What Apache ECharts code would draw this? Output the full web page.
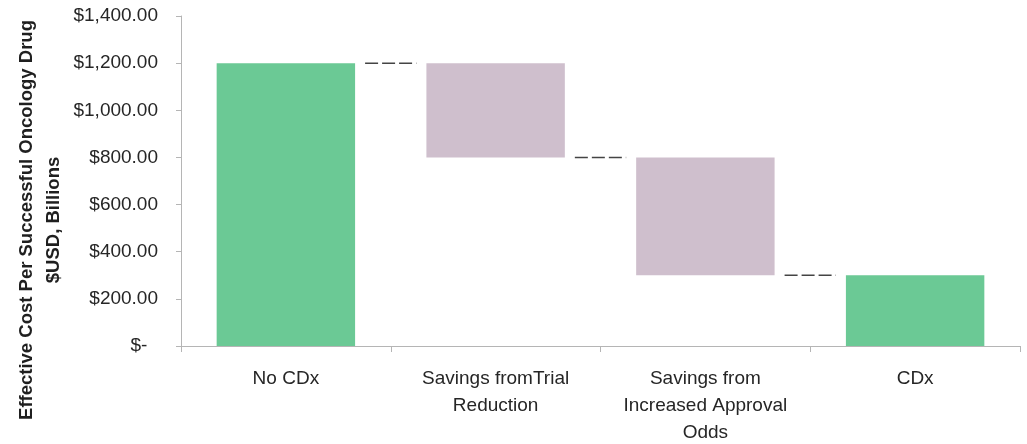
<!DOCTYPE html>
<html>
<head>
<meta charset="utf-8">
<title>Effective Cost Per Successful Oncology Drug</title>
<script src="https://cdn.jsdelivr.net/npm/echarts@6/dist/echarts.min.js"></script>
<style>
  html, body { margin: 0; padding: 0; background: #fff; }
  #chart { width: 1027px; height: 444px; }
</style>
</head>
<body>
<div id="chart"></div>
<script>
// Waterfall steps: invisible base + visible segment
const categories = ['No CDx', 'Savings fromTrial\nReduction', 'Savings from\nIncreased Approval\nOdds', 'CDx'];
const barBase = [0, 800, 300, 0];
const barHeight = [1200, 400, 500, 300];
const barKinds = ['total', 'saving', 'saving', 'total'];
// Level each dashed connector sits at, leaving category i
const connectorLevels = [1200, 800, 300];
const yTicks = [0, 200, 400, 600, 800, 1000, 1200, 1400];

const colors = { total: '#6bc995', saving: '#cfbfcd' };
const FONT = 'Liberation Sans';
const CAT_GAP = 0.34;

function money(v) {
  if (v === 0) return '$-  ';
  return '$' + v.toLocaleString('en-US', { minimumFractionDigits: 2, maximumFractionDigits: 2 });
}

const chart = echarts.init(document.getElementById('chart'), null, { renderer: 'canvas' });

chart.setOption({
  animation: false,
  backgroundColor: '#ffffff',
  grid: { left: 181, right: 7, top: 16, bottom: 98, containLabel: false, outerBoundsMode: 'none' },
  xAxis: {
    type: 'category',
    data: categories,
    axisLine: { lineStyle: { color: '#b5b5b5', width: 1 } },
    axisTick: { show: true, length: 6, alignWithLabel: false, lineStyle: { color: '#b5b5b5' } },
    axisLabel: {
      interval: 0, margin: 19, color: '#262626',
      fontFamily: FONT, fontSize: 19, lineHeight: 27
    }
  },
  yAxis: {
    type: 'value',
    min: yTicks[0],
    max: yTicks[yTicks.length - 1],
    interval: yTicks[1] - yTicks[0],
    splitLine: { show: false },
    axisLine: { show: true, lineStyle: { color: '#b5b5b5', width: 1 } },
    axisTick: { show: true, length: 5, lineStyle: { color: '#b5b5b5' } },
    axisLabel: {
      margin: 23, color: '#262626', fontFamily: FONT, fontSize: 19,
      formatter: money
    }
  },
  graphic: [{
    type: 'text',
    x: 40, y: 220,
    rotation: Math.PI / 2,
    style: {
      text: 'Effective Cost Per Successful Oncology Drug\n$USD, Billions',
      fontFamily: FONT, fontSize: 18.5, fontWeight: 'bold',
      fill: '#1f1f1f', align: 'center', verticalAlign: 'middle', lineHeight: 27
    }
  }],
  series: [
    {
      type: 'bar', stack: 'wf', silent: true,
      barCategoryGap: (CAT_GAP * 100) + '%',
      itemStyle: { color: 'transparent' },
      data: barBase
    },
    {
      type: 'bar', stack: 'wf',
      barCategoryGap: (CAT_GAP * 100) + '%',
      data: barHeight.map((v, i) => ({ value: v, itemStyle: { color: colors[barKinds[i]] } }))
    },
    {
      type: 'custom',
      silent: true,
      data: connectorLevels.map((lvl, i) => [i, lvl]),
      renderItem: function (params, api) {
        const i = api.value(0);
        const lvl = api.value(1);
        const p0 = api.coord([i, lvl]);
        const p1 = api.coord([i + 1, lvl]);
        const band = api.size([1, 0])[0];
        const half = band * (1 - CAT_GAP) / 2;
        const x0 = p0[0] + half + 10;
        const x1 = p1[0] - half - 10;
        return {
          type: 'line',
          shape: { x1: x0, y1: p0[1], x2: x1, y2: p0[1] },
          style: { stroke: '#444444', lineWidth: 1.5, lineDash: [13, 4] }
        };
      }
    }
  ]
});
</script>
</body>
</html>
